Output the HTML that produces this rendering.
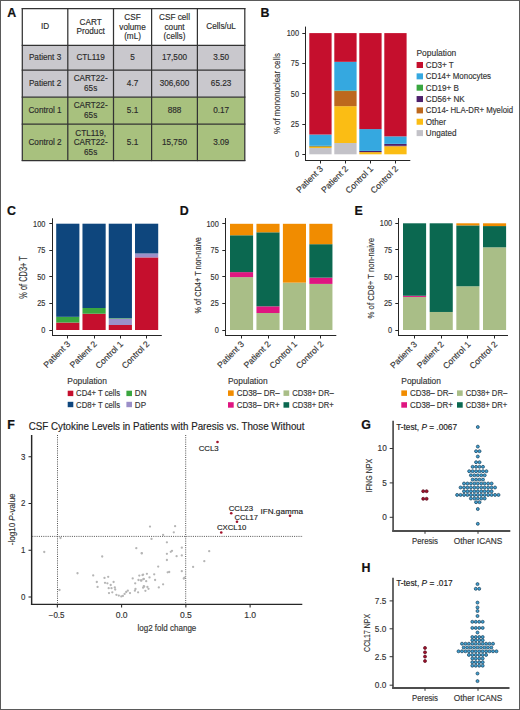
<!DOCTYPE html>
<html><head><meta charset="utf-8"><style>
html,body{margin:0;padding:0;background:#fff;}
body{width:520px;height:710px;overflow:hidden;position:relative;}
svg{position:absolute;left:0;top:0;font-family:"Liberation Sans", sans-serif;}
.frame{position:absolute;left:0;top:0;width:518px;height:708px;border:1px solid #5a5a5a;}
</style></head><body>
<svg width="520" height="710" viewBox="0 0 520 710">
<text x="7.2" y="16.7" font-size="12.4" text-anchor="start" fill="#111" font-weight="bold" stroke="#111" stroke-width="0.2">A</text>
<rect x="22.3" y="8.6" width="222.5" height="36.699999999999996" fill="#fff"/>
<rect x="22.3" y="45.3" width="222.5" height="51.900000000000006" fill="#c9c8cd"/>
<rect x="22.3" y="97.2" width="222.5" height="63.3" fill="#a8c17e"/>
<line x1="22.3" y1="8.0" x2="22.3" y2="161.1" stroke="#333" stroke-width="1.25"/>
<line x1="67.8" y1="8.0" x2="67.8" y2="161.1" stroke="#333" stroke-width="1.25"/>
<line x1="113.5" y1="8.0" x2="113.5" y2="161.1" stroke="#333" stroke-width="1.25"/>
<line x1="151.6" y1="8.0" x2="151.6" y2="161.1" stroke="#333" stroke-width="1.25"/>
<line x1="197.4" y1="8.0" x2="197.4" y2="161.1" stroke="#333" stroke-width="1.25"/>
<line x1="244.8" y1="8.0" x2="244.8" y2="161.1" stroke="#333" stroke-width="1.25"/>
<line x1="21.7" y1="8.6" x2="245.4" y2="8.6" stroke="#333" stroke-width="1.25"/>
<line x1="21.7" y1="45.3" x2="245.4" y2="45.3" stroke="#333" stroke-width="1.25"/>
<line x1="21.7" y1="70.2" x2="245.4" y2="70.2" stroke="#333" stroke-width="1.25"/>
<line x1="21.7" y1="97.2" x2="245.4" y2="97.2" stroke="#333" stroke-width="1.25"/>
<line x1="21.7" y1="124.2" x2="245.4" y2="124.2" stroke="#333" stroke-width="1.25"/>
<line x1="21.7" y1="160.5" x2="245.4" y2="160.5" stroke="#333" stroke-width="1.25"/>
<text x="45.05" y="29.25" font-size="8.2" text-anchor="middle" fill="#2b2b2b" font-weight="normal" stroke="#2b2b2b" stroke-width="0.15">ID</text>
<text x="90.65" y="24.55" font-size="8.2" text-anchor="middle" fill="#2b2b2b" font-weight="normal" stroke="#2b2b2b" stroke-width="0.15">CART</text>
<text x="90.65" y="34.15" font-size="8.2" text-anchor="middle" fill="#2b2b2b" font-weight="normal" stroke="#2b2b2b" stroke-width="0.15">Product</text>
<text x="132.55" y="20.1" font-size="8.2" text-anchor="middle" fill="#2b2b2b" font-weight="normal" stroke="#2b2b2b" stroke-width="0.15">CSF</text>
<text x="132.55" y="29.7" font-size="8.2" text-anchor="middle" fill="#2b2b2b" font-weight="normal" stroke="#2b2b2b" stroke-width="0.15">volume</text>
<text x="132.55" y="39.3" font-size="8.2" text-anchor="middle" fill="#2b2b2b" font-weight="normal" stroke="#2b2b2b" stroke-width="0.15">(mL)</text>
<text x="174.5" y="20.1" font-size="8.2" text-anchor="middle" fill="#2b2b2b" font-weight="normal" stroke="#2b2b2b" stroke-width="0.15">CSF cell</text>
<text x="174.5" y="29.7" font-size="8.2" text-anchor="middle" fill="#2b2b2b" font-weight="normal" stroke="#2b2b2b" stroke-width="0.15">count</text>
<text x="174.5" y="39.3" font-size="8.2" text-anchor="middle" fill="#2b2b2b" font-weight="normal" stroke="#2b2b2b" stroke-width="0.15">(cells)</text>
<text x="221.1" y="29.25" font-size="8.2" text-anchor="middle" fill="#2b2b2b" font-weight="normal" stroke="#2b2b2b" stroke-width="0.15">Cells/uL</text>
<text x="45.05" y="60.05" font-size="8.2" text-anchor="middle" fill="#2b2b2b" font-weight="normal" stroke="#2b2b2b" stroke-width="0.15">Patient 3</text>
<text x="90.65" y="60.05" font-size="8.2" text-anchor="middle" fill="#2b2b2b" font-weight="normal" stroke="#2b2b2b" stroke-width="0.15">CTL119</text>
<text x="132.55" y="60.05" font-size="8.2" text-anchor="middle" fill="#2b2b2b" font-weight="normal" stroke="#2b2b2b" stroke-width="0.15">5</text>
<text x="174.5" y="60.05" font-size="8.2" text-anchor="middle" fill="#2b2b2b" font-weight="normal" stroke="#2b2b2b" stroke-width="0.15">17,500</text>
<text x="221.1" y="60.05" font-size="8.2" text-anchor="middle" fill="#2b2b2b" font-weight="normal" stroke="#2b2b2b" stroke-width="0.15">3.50</text>
<text x="45.05" y="86.0" font-size="8.2" text-anchor="middle" fill="#2b2b2b" font-weight="normal" stroke="#2b2b2b" stroke-width="0.15">Patient 2</text>
<text x="90.65" y="81.3" font-size="8.2" text-anchor="middle" fill="#2b2b2b" font-weight="normal" stroke="#2b2b2b" stroke-width="0.15">CART22-</text>
<text x="90.65" y="90.9" font-size="8.2" text-anchor="middle" fill="#2b2b2b" font-weight="normal" stroke="#2b2b2b" stroke-width="0.15">65s</text>
<text x="132.55" y="86.0" font-size="8.2" text-anchor="middle" fill="#2b2b2b" font-weight="normal" stroke="#2b2b2b" stroke-width="0.15">4.7</text>
<text x="174.5" y="86.0" font-size="8.2" text-anchor="middle" fill="#2b2b2b" font-weight="normal" stroke="#2b2b2b" stroke-width="0.15">306,600</text>
<text x="221.1" y="86.0" font-size="8.2" text-anchor="middle" fill="#2b2b2b" font-weight="normal" stroke="#2b2b2b" stroke-width="0.15">65.23</text>
<text x="45.05" y="113.0" font-size="8.2" text-anchor="middle" fill="#2b2b2b" font-weight="normal" stroke="#2b2b2b" stroke-width="0.15">Control 1</text>
<text x="90.65" y="108.3" font-size="8.2" text-anchor="middle" fill="#2b2b2b" font-weight="normal" stroke="#2b2b2b" stroke-width="0.15">CART22-</text>
<text x="90.65" y="117.9" font-size="8.2" text-anchor="middle" fill="#2b2b2b" font-weight="normal" stroke="#2b2b2b" stroke-width="0.15">65s</text>
<text x="132.55" y="113.0" font-size="8.2" text-anchor="middle" fill="#2b2b2b" font-weight="normal" stroke="#2b2b2b" stroke-width="0.15">5.1</text>
<text x="174.5" y="113.0" font-size="8.2" text-anchor="middle" fill="#2b2b2b" font-weight="normal" stroke="#2b2b2b" stroke-width="0.15">888</text>
<text x="221.1" y="113.0" font-size="8.2" text-anchor="middle" fill="#2b2b2b" font-weight="normal" stroke="#2b2b2b" stroke-width="0.15">0.17</text>
<text x="45.05" y="144.65" font-size="8.2" text-anchor="middle" fill="#2b2b2b" font-weight="normal" stroke="#2b2b2b" stroke-width="0.15">Control 2</text>
<text x="90.65" y="135.5" font-size="8.2" text-anchor="middle" fill="#2b2b2b" font-weight="normal" stroke="#2b2b2b" stroke-width="0.15">CTL119,</text>
<text x="90.65" y="145.1" font-size="8.2" text-anchor="middle" fill="#2b2b2b" font-weight="normal" stroke="#2b2b2b" stroke-width="0.15">CART22-</text>
<text x="90.65" y="154.7" font-size="8.2" text-anchor="middle" fill="#2b2b2b" font-weight="normal" stroke="#2b2b2b" stroke-width="0.15">65s</text>
<text x="132.55" y="144.65" font-size="8.2" text-anchor="middle" fill="#2b2b2b" font-weight="normal" stroke="#2b2b2b" stroke-width="0.15">5.1</text>
<text x="174.5" y="144.65" font-size="8.2" text-anchor="middle" fill="#2b2b2b" font-weight="normal" stroke="#2b2b2b" stroke-width="0.15">15,750</text>
<text x="221.1" y="144.65" font-size="8.2" text-anchor="middle" fill="#2b2b2b" font-weight="normal" stroke="#2b2b2b" stroke-width="0.15">3.09</text>
<text x="260.5" y="16.8" font-size="12.4" text-anchor="start" fill="#111" font-weight="bold" stroke="#111" stroke-width="0.2">B</text>
<rect x="309.3" y="148.0" width="22.3" height="6.3" fill="#c3c2c8"/>
<rect x="309.3" y="147.03" width="22.3" height="0.97" fill="#fbbd14"/>
<rect x="309.3" y="146.3" width="22.3" height="0.73" fill="#bd681d"/>
<rect x="309.3" y="145.82" width="22.3" height="0.48" fill="#3aa63f"/>
<rect x="309.3" y="134.54" width="22.3" height="11.27" fill="#35a8e0"/>
<rect x="309.3" y="33.1" width="22.3" height="101.44" fill="#c50f2d"/>
<rect x="334.3" y="143.03" width="22.3" height="11.27" fill="#c3c2c8"/>
<rect x="334.3" y="106.18" width="22.3" height="36.84" fill="#fbbd14"/>
<rect x="334.3" y="91.03" width="22.3" height="15.15" fill="#bd681d"/>
<rect x="334.3" y="90.43" width="22.3" height="0.61" fill="#3aa63f"/>
<rect x="334.3" y="61.82" width="22.3" height="28.6" fill="#35a8e0"/>
<rect x="334.3" y="33.1" width="22.3" height="28.72" fill="#c50f2d"/>
<rect x="359.3" y="152.12" width="22.3" height="2.18" fill="#fbbd14"/>
<rect x="359.3" y="150.91" width="22.3" height="1.21" fill="#4d1f6b"/>
<rect x="359.3" y="129.09" width="22.3" height="21.82" fill="#35a8e0"/>
<rect x="359.3" y="33.1" width="22.3" height="95.99" fill="#c50f2d"/>
<rect x="384.3" y="146.42" width="22.3" height="7.88" fill="#fbbd14"/>
<rect x="384.3" y="145.82" width="22.3" height="0.61" fill="#bd681d"/>
<rect x="384.3" y="143.88" width="22.3" height="1.94" fill="#4d1f6b"/>
<rect x="384.3" y="136.36" width="22.3" height="7.51" fill="#35a8e0"/>
<rect x="384.3" y="33.1" width="22.3" height="103.26" fill="#c50f2d"/>
<line x1="305.5" y1="26.6" x2="305.5" y2="161.0" stroke="#262626" stroke-width="1.0"/>
<line x1="305.0" y1="160.5" x2="410.3" y2="160.5" stroke="#262626" stroke-width="1.0"/>
<line x1="302.3" y1="154.5" x2="305.5" y2="154.5" stroke="#262626" stroke-width="1.0"/>
<text x="299.0" y="157.15" font-size="8.3" text-anchor="end" fill="#333" font-weight="normal" stroke="#333" stroke-width="0.15" textLength="4.1" lengthAdjust="spacingAndGlyphs">0</text>
<line x1="302.3" y1="124.5" x2="305.5" y2="124.5" stroke="#262626" stroke-width="1.0"/>
<text x="299.0" y="126.85" font-size="8.3" text-anchor="end" fill="#333" font-weight="normal" stroke="#333" stroke-width="0.15" textLength="8.2" lengthAdjust="spacingAndGlyphs">25</text>
<line x1="302.3" y1="93.5" x2="305.5" y2="93.5" stroke="#262626" stroke-width="1.0"/>
<text x="299.0" y="96.55" font-size="8.3" text-anchor="end" fill="#333" font-weight="normal" stroke="#333" stroke-width="0.15" textLength="8.2" lengthAdjust="spacingAndGlyphs">50</text>
<line x1="302.3" y1="63.5" x2="305.5" y2="63.5" stroke="#262626" stroke-width="1.0"/>
<text x="299.0" y="66.25" font-size="8.3" text-anchor="end" fill="#333" font-weight="normal" stroke="#333" stroke-width="0.15" textLength="8.2" lengthAdjust="spacingAndGlyphs">75</text>
<line x1="302.3" y1="33.5" x2="305.5" y2="33.5" stroke="#262626" stroke-width="1.0"/>
<text x="299.0" y="35.95" font-size="8.3" text-anchor="end" fill="#333" font-weight="normal" stroke="#333" stroke-width="0.15" textLength="12.3" lengthAdjust="spacingAndGlyphs">100</text>
<line x1="320.5" y1="160.5" x2="320.5" y2="163.5" stroke="#262626" stroke-width="1.0"/>
<text transform="translate(323.65,169.4) rotate(-45)" font-size="8.6" text-anchor="end" fill="#333" stroke="#333" stroke-width="0.15">Patient 3</text>
<line x1="345.5" y1="160.5" x2="345.5" y2="163.5" stroke="#262626" stroke-width="1.0"/>
<text transform="translate(348.65,169.4) rotate(-45)" font-size="8.6" text-anchor="end" fill="#333" stroke="#333" stroke-width="0.15">Patient 2</text>
<line x1="370.5" y1="160.5" x2="370.5" y2="163.5" stroke="#262626" stroke-width="1.0"/>
<text transform="translate(373.65,169.4) rotate(-45)" font-size="8.6" text-anchor="end" fill="#333" stroke="#333" stroke-width="0.15">Control 1</text>
<line x1="395.5" y1="160.5" x2="395.5" y2="163.5" stroke="#262626" stroke-width="1.0"/>
<text transform="translate(398.65,169.4) rotate(-45)" font-size="8.6" text-anchor="end" fill="#333" stroke="#333" stroke-width="0.15">Control 2</text>
<text transform="translate(280.0,93.6) rotate(-90)" font-size="9.3" text-anchor="middle" fill="#333" stroke="#333" stroke-width="0.15" textLength="80.9" lengthAdjust="spacingAndGlyphs">% of mononuclear cells</text>
<text x="416.5" y="56.1" font-size="8.3" text-anchor="start" fill="#333" font-weight="normal" stroke="#333" stroke-width="0.15" textLength="39.8" lengthAdjust="spacingAndGlyphs">Population</text>
<rect x="416.6" y="62.0" width="6.4" height="6.0" fill="#c50f2d"/>
<text x="425.8" y="67.9" font-size="8.5" text-anchor="start" fill="#333" font-weight="normal" stroke="#333" stroke-width="0.15" textLength="27.99" lengthAdjust="spacingAndGlyphs">CD3+ T</text>
<rect x="416.6" y="73.35" width="6.4" height="6.0" fill="#35a8e0"/>
<text x="425.8" y="79.25" font-size="8.5" text-anchor="start" fill="#333" font-weight="normal" stroke="#333" stroke-width="0.15" textLength="65.2" lengthAdjust="spacingAndGlyphs">CD14+ Monocytes</text>
<rect x="416.6" y="84.7" width="6.4" height="6.0" fill="#3aa63f"/>
<text x="425.8" y="90.6" font-size="8.5" text-anchor="start" fill="#333" font-weight="normal" stroke="#333" stroke-width="0.15" textLength="33.09" lengthAdjust="spacingAndGlyphs">CD19+ B</text>
<rect x="416.6" y="96.05" width="6.4" height="6.0" fill="#4d1f6b"/>
<text x="425.8" y="101.95" font-size="8.5" text-anchor="start" fill="#333" font-weight="normal" stroke="#333" stroke-width="0.15" textLength="38.94" lengthAdjust="spacingAndGlyphs">CD56+ NK</text>
<rect x="416.6" y="107.4" width="6.4" height="6.0" fill="#bd681d"/>
<text x="425.8" y="113.3" font-size="8.5" text-anchor="start" fill="#333" font-weight="normal" stroke="#333" stroke-width="0.15" textLength="87.3" lengthAdjust="spacingAndGlyphs">CD14- HLA-DR+ Myeloid</text>
<rect x="416.6" y="118.75" width="6.4" height="6.0" fill="#fbbd14"/>
<text x="425.8" y="124.65" font-size="8.5" text-anchor="start" fill="#333" font-weight="normal" stroke="#333" stroke-width="0.15" textLength="20.26" lengthAdjust="spacingAndGlyphs">Other</text>
<rect x="416.6" y="130.1" width="6.4" height="6.0" fill="#c3c2c8"/>
<text x="425.8" y="136.0" font-size="8.5" text-anchor="start" fill="#333" font-weight="normal" stroke="#333" stroke-width="0.15" textLength="30.62" lengthAdjust="spacingAndGlyphs">Ungated</text>
<text x="7.0" y="215.4" font-size="12.4" text-anchor="start" fill="#111" font-weight="bold" stroke="#111" stroke-width="0.2">C</text>
<rect x="56.2" y="322.56" width="23.2" height="7.44" fill="#c50f2d"/>
<rect x="56.2" y="316.82" width="23.2" height="5.74" fill="#3aa63f"/>
<rect x="56.2" y="223.7" width="23.2" height="93.12" fill="#0e467d"/>
<rect x="82.47" y="313.74" width="23.2" height="16.26" fill="#c50f2d"/>
<rect x="82.47" y="308.0" width="23.2" height="5.74" fill="#3aa63f"/>
<rect x="82.47" y="223.7" width="23.2" height="84.3" fill="#0e467d"/>
<rect x="108.74" y="325.0" width="23.2" height="5.0" fill="#c50f2d"/>
<rect x="108.74" y="318.73" width="23.2" height="6.27" fill="#9b8fc8"/>
<rect x="108.74" y="318.2" width="23.2" height="0.53" fill="#3aa63f"/>
<rect x="108.74" y="223.7" width="23.2" height="94.5" fill="#0e467d"/>
<rect x="135.01" y="257.4" width="23.2" height="72.6" fill="#c50f2d"/>
<rect x="135.01" y="253.46" width="23.2" height="3.93" fill="#9b8fc8"/>
<rect x="135.01" y="223.7" width="23.2" height="29.76" fill="#0e467d"/>
<line x1="52.5" y1="218.3" x2="52.5" y2="336.0" stroke="#262626" stroke-width="1.0"/>
<line x1="52.0" y1="335.5" x2="161.8" y2="335.5" stroke="#262626" stroke-width="1.0"/>
<line x1="49.3" y1="330.5" x2="52.5" y2="330.5" stroke="#262626" stroke-width="1.0"/>
<text x="45.4" y="332.85" font-size="8.3" text-anchor="end" fill="#333" font-weight="normal" stroke="#333" stroke-width="0.15" textLength="4.1" lengthAdjust="spacingAndGlyphs">0</text>
<line x1="49.3" y1="303.5" x2="52.5" y2="303.5" stroke="#262626" stroke-width="1.0"/>
<text x="45.4" y="306.28" font-size="8.3" text-anchor="end" fill="#333" font-weight="normal" stroke="#333" stroke-width="0.15" textLength="8.2" lengthAdjust="spacingAndGlyphs">25</text>
<line x1="49.3" y1="276.5" x2="52.5" y2="276.5" stroke="#262626" stroke-width="1.0"/>
<text x="45.4" y="279.7" font-size="8.3" text-anchor="end" fill="#333" font-weight="normal" stroke="#333" stroke-width="0.15" textLength="8.2" lengthAdjust="spacingAndGlyphs">50</text>
<line x1="49.3" y1="250.5" x2="52.5" y2="250.5" stroke="#262626" stroke-width="1.0"/>
<text x="45.4" y="253.12" font-size="8.3" text-anchor="end" fill="#333" font-weight="normal" stroke="#333" stroke-width="0.15" textLength="8.2" lengthAdjust="spacingAndGlyphs">75</text>
<line x1="49.3" y1="223.5" x2="52.5" y2="223.5" stroke="#262626" stroke-width="1.0"/>
<text x="45.4" y="226.55" font-size="8.3" text-anchor="end" fill="#333" font-weight="normal" stroke="#333" stroke-width="0.15" textLength="12.3" lengthAdjust="spacingAndGlyphs">100</text>
<line x1="67.5" y1="335.5" x2="67.5" y2="338.5" stroke="#262626" stroke-width="1.0"/>
<text transform="translate(71.0,344.5) rotate(-45)" font-size="8.6" text-anchor="end" fill="#333" stroke="#333" stroke-width="0.15">Patient 3</text>
<line x1="94.5" y1="335.5" x2="94.5" y2="338.5" stroke="#262626" stroke-width="1.0"/>
<text transform="translate(97.27,344.5) rotate(-45)" font-size="8.6" text-anchor="end" fill="#333" stroke="#333" stroke-width="0.15">Patient 2</text>
<line x1="120.5" y1="335.5" x2="120.5" y2="338.5" stroke="#262626" stroke-width="1.0"/>
<text transform="translate(123.54,344.5) rotate(-45)" font-size="8.6" text-anchor="end" fill="#333" stroke="#333" stroke-width="0.15">Control 1</text>
<line x1="146.5" y1="335.5" x2="146.5" y2="338.5" stroke="#262626" stroke-width="1.0"/>
<text transform="translate(149.81,344.5) rotate(-45)" font-size="8.6" text-anchor="end" fill="#333" stroke="#333" stroke-width="0.15">Control 2</text>
<text transform="translate(26.8,277.4) rotate(-90)" font-size="10.2" text-anchor="middle" fill="#333" stroke="#333" stroke-width="0.15" textLength="42.6" lengthAdjust="spacingAndGlyphs">% of CD3+ T</text>
<text x="67.3" y="384.4" font-size="8.3" text-anchor="start" fill="#333" font-weight="normal" stroke="#333" stroke-width="0.15" textLength="39.6" lengthAdjust="spacingAndGlyphs">Population</text>
<rect x="67.7" y="390.7" width="5.6" height="5.4" fill="#c50f2d"/>
<text x="76.10000000000001" y="396.4" font-size="8.5" text-anchor="start" fill="#333" font-weight="normal" stroke="#333" stroke-width="0.15" textLength="44" lengthAdjust="spacingAndGlyphs">CD4+ T cells</text>
<rect x="67.7" y="401.8" width="5.6" height="5.4" fill="#0e467d"/>
<text x="76.10000000000001" y="407.5" font-size="8.5" text-anchor="start" fill="#333" font-weight="normal" stroke="#333" stroke-width="0.15" textLength="44" lengthAdjust="spacingAndGlyphs">CD8+ T cells</text>
<rect x="126.4" y="390.7" width="5.6" height="5.4" fill="#3aa63f"/>
<text x="134.8" y="396.4" font-size="8.5" text-anchor="start" fill="#333" font-weight="normal" stroke="#333" stroke-width="0.15" textLength="11.7" lengthAdjust="spacingAndGlyphs">DN</text>
<rect x="126.4" y="401.8" width="5.6" height="5.4" fill="#9b8fc8"/>
<text x="134.8" y="407.5" font-size="8.5" text-anchor="start" fill="#333" font-weight="normal" stroke="#333" stroke-width="0.15" textLength="11.25" lengthAdjust="spacingAndGlyphs">DP</text>
<text x="179.8" y="215.4" font-size="12.4" text-anchor="start" fill="#111" font-weight="bold" stroke="#111" stroke-width="0.2">D</text>
<rect x="230.0" y="277.11" width="23.1" height="52.89" fill="#a9be87"/>
<rect x="230.0" y="272.12" width="23.1" height="4.99" fill="#df1580"/>
<rect x="230.0" y="235.27" width="23.1" height="36.85" fill="#0b6850"/>
<rect x="230.0" y="223.8" width="23.1" height="11.47" fill="#f18c00"/>
<rect x="256.45" y="313.01" width="23.1" height="16.99" fill="#a9be87"/>
<rect x="256.45" y="306.32" width="23.1" height="6.69" fill="#df1580"/>
<rect x="256.45" y="232.3" width="23.1" height="74.02" fill="#0b6850"/>
<rect x="256.45" y="223.8" width="23.1" height="8.5" fill="#f18c00"/>
<rect x="282.9" y="282.63" width="23.1" height="47.37" fill="#a9be87"/>
<rect x="282.9" y="223.8" width="23.1" height="58.83" fill="#f18c00"/>
<rect x="309.35" y="283.91" width="23.1" height="46.09" fill="#a9be87"/>
<rect x="309.35" y="277.64" width="23.1" height="6.27" fill="#df1580"/>
<rect x="309.35" y="244.19" width="23.1" height="33.45" fill="#0b6850"/>
<rect x="309.35" y="223.8" width="23.1" height="20.39" fill="#f18c00"/>
<line x1="225.5" y1="218.0" x2="225.5" y2="336.0" stroke="#262626" stroke-width="1.0"/>
<line x1="225.0" y1="335.5" x2="336.3" y2="335.5" stroke="#262626" stroke-width="1.0"/>
<line x1="222.3" y1="330.5" x2="225.5" y2="330.5" stroke="#262626" stroke-width="1.0"/>
<text x="218.8" y="332.85" font-size="8.3" text-anchor="end" fill="#333" font-weight="normal" stroke="#333" stroke-width="0.15" textLength="4.1" lengthAdjust="spacingAndGlyphs">0</text>
<line x1="222.3" y1="303.5" x2="225.5" y2="303.5" stroke="#262626" stroke-width="1.0"/>
<text x="218.8" y="306.3" font-size="8.3" text-anchor="end" fill="#333" font-weight="normal" stroke="#333" stroke-width="0.15" textLength="8.2" lengthAdjust="spacingAndGlyphs">25</text>
<line x1="222.3" y1="276.5" x2="225.5" y2="276.5" stroke="#262626" stroke-width="1.0"/>
<text x="218.8" y="279.75" font-size="8.3" text-anchor="end" fill="#333" font-weight="normal" stroke="#333" stroke-width="0.15" textLength="8.2" lengthAdjust="spacingAndGlyphs">50</text>
<line x1="222.3" y1="250.5" x2="225.5" y2="250.5" stroke="#262626" stroke-width="1.0"/>
<text x="218.8" y="253.2" font-size="8.3" text-anchor="end" fill="#333" font-weight="normal" stroke="#333" stroke-width="0.15" textLength="8.2" lengthAdjust="spacingAndGlyphs">75</text>
<line x1="222.3" y1="223.5" x2="225.5" y2="223.5" stroke="#262626" stroke-width="1.0"/>
<text x="218.8" y="226.65" font-size="8.3" text-anchor="end" fill="#333" font-weight="normal" stroke="#333" stroke-width="0.15" textLength="12.3" lengthAdjust="spacingAndGlyphs">100</text>
<line x1="241.5" y1="335.5" x2="241.5" y2="338.5" stroke="#262626" stroke-width="1.0"/>
<text transform="translate(244.75,344.7) rotate(-45)" font-size="8.6" text-anchor="end" fill="#333" stroke="#333" stroke-width="0.15">Patient 3</text>
<line x1="268.5" y1="335.5" x2="268.5" y2="338.5" stroke="#262626" stroke-width="1.0"/>
<text transform="translate(271.2,344.7) rotate(-45)" font-size="8.6" text-anchor="end" fill="#333" stroke="#333" stroke-width="0.15">Patient 2</text>
<line x1="294.5" y1="335.5" x2="294.5" y2="338.5" stroke="#262626" stroke-width="1.0"/>
<text transform="translate(297.65,344.7) rotate(-45)" font-size="8.6" text-anchor="end" fill="#333" stroke="#333" stroke-width="0.15">Control 1</text>
<line x1="320.5" y1="335.5" x2="320.5" y2="338.5" stroke="#262626" stroke-width="1.0"/>
<text transform="translate(324.1,344.7) rotate(-45)" font-size="8.6" text-anchor="end" fill="#333" stroke="#333" stroke-width="0.15">Control 2</text>
<text transform="translate(200.6,275.3) rotate(-90)" font-size="9.6" text-anchor="middle" fill="#333" stroke="#333" stroke-width="0.15" textLength="76.5" lengthAdjust="spacingAndGlyphs">% of CD4+ T non-naive</text>
<text x="354.6" y="215.4" font-size="12.4" text-anchor="start" fill="#111" font-weight="bold" stroke="#111" stroke-width="0.2">E</text>
<rect x="403.0" y="296.92" width="23.1" height="33.08" fill="#a9be87"/>
<rect x="403.0" y="295.75" width="23.1" height="1.17" fill="#df1580"/>
<rect x="403.0" y="223.3" width="23.1" height="72.45" fill="#0b6850"/>
<rect x="429.67" y="311.97" width="23.1" height="18.03" fill="#a9be87"/>
<rect x="429.67" y="223.3" width="23.1" height="88.67" fill="#0b6850"/>
<rect x="456.34" y="286.25" width="23.1" height="43.75" fill="#a9be87"/>
<rect x="456.34" y="225.43" width="23.1" height="60.82" fill="#0b6850"/>
<rect x="456.34" y="223.3" width="23.1" height="2.13" fill="#f18c00"/>
<rect x="483.01" y="247.31" width="23.1" height="82.69" fill="#a9be87"/>
<rect x="483.01" y="226.07" width="23.1" height="21.23" fill="#0b6850"/>
<rect x="483.01" y="223.3" width="23.1" height="2.77" fill="#f18c00"/>
<line x1="398.5" y1="218.0" x2="398.5" y2="336.0" stroke="#262626" stroke-width="1.0"/>
<line x1="398.0" y1="335.5" x2="508.0" y2="335.5" stroke="#262626" stroke-width="1.0"/>
<line x1="395.3" y1="330.5" x2="398.5" y2="330.5" stroke="#262626" stroke-width="1.0"/>
<text x="392.15" y="332.85" font-size="8.3" text-anchor="end" fill="#333" font-weight="normal" stroke="#333" stroke-width="0.15" textLength="4.1" lengthAdjust="spacingAndGlyphs">0</text>
<line x1="395.3" y1="303.5" x2="398.5" y2="303.5" stroke="#262626" stroke-width="1.0"/>
<text x="392.15" y="306.18" font-size="8.3" text-anchor="end" fill="#333" font-weight="normal" stroke="#333" stroke-width="0.15" textLength="8.2" lengthAdjust="spacingAndGlyphs">25</text>
<line x1="395.3" y1="276.5" x2="398.5" y2="276.5" stroke="#262626" stroke-width="1.0"/>
<text x="392.15" y="279.5" font-size="8.3" text-anchor="end" fill="#333" font-weight="normal" stroke="#333" stroke-width="0.15" textLength="8.2" lengthAdjust="spacingAndGlyphs">50</text>
<line x1="395.3" y1="249.5" x2="398.5" y2="249.5" stroke="#262626" stroke-width="1.0"/>
<text x="392.15" y="252.83" font-size="8.3" text-anchor="end" fill="#333" font-weight="normal" stroke="#333" stroke-width="0.15" textLength="8.2" lengthAdjust="spacingAndGlyphs">75</text>
<line x1="395.3" y1="223.5" x2="398.5" y2="223.5" stroke="#262626" stroke-width="1.0"/>
<text x="392.15" y="226.15" font-size="8.3" text-anchor="end" fill="#333" font-weight="normal" stroke="#333" stroke-width="0.15" textLength="12.3" lengthAdjust="spacingAndGlyphs">100</text>
<line x1="414.5" y1="335.5" x2="414.5" y2="338.5" stroke="#262626" stroke-width="1.0"/>
<text transform="translate(417.75,344.95) rotate(-45)" font-size="8.6" text-anchor="end" fill="#333" stroke="#333" stroke-width="0.15">Patient 3</text>
<line x1="441.5" y1="335.5" x2="441.5" y2="338.5" stroke="#262626" stroke-width="1.0"/>
<text transform="translate(444.42,344.95) rotate(-45)" font-size="8.6" text-anchor="end" fill="#333" stroke="#333" stroke-width="0.15">Patient 2</text>
<line x1="467.5" y1="335.5" x2="467.5" y2="338.5" stroke="#262626" stroke-width="1.0"/>
<text transform="translate(471.09,344.95) rotate(-45)" font-size="8.6" text-anchor="end" fill="#333" stroke="#333" stroke-width="0.15">Control 1</text>
<line x1="494.5" y1="335.5" x2="494.5" y2="338.5" stroke="#262626" stroke-width="1.0"/>
<text transform="translate(497.76,344.95) rotate(-45)" font-size="8.6" text-anchor="end" fill="#333" stroke="#333" stroke-width="0.15">Control 2</text>
<text transform="translate(374.4,278.2) rotate(-90)" font-size="9.6" text-anchor="middle" fill="#333" stroke="#333" stroke-width="0.15" textLength="80.5" lengthAdjust="spacingAndGlyphs">% of CD8+ T non-naive</text>
<text x="228.0" y="384.2" font-size="8.3" text-anchor="start" fill="#333" font-weight="normal" stroke="#333" stroke-width="0.15" textLength="39.6" lengthAdjust="spacingAndGlyphs">Population</text>
<rect x="228.0" y="390.4" width="5.7" height="5.5" fill="#f18c00"/>
<text x="236.7" y="396.1" font-size="8.5" text-anchor="start" fill="#333" font-weight="normal" stroke="#333" stroke-width="0.15" textLength="42.9" lengthAdjust="spacingAndGlyphs">CD38– DR–</text>
<rect x="228.0" y="402.2" width="5.7" height="5.5" fill="#df1580"/>
<text x="236.7" y="407.9" font-size="8.5" text-anchor="start" fill="#333" font-weight="normal" stroke="#333" stroke-width="0.15" textLength="42.9" lengthAdjust="spacingAndGlyphs">CD38– DR+</text>
<rect x="283.5" y="390.4" width="5.7" height="5.5" fill="#a9be87"/>
<text x="292.2" y="396.1" font-size="8.5" text-anchor="start" fill="#333" font-weight="normal" stroke="#333" stroke-width="0.15" textLength="41.5" lengthAdjust="spacingAndGlyphs">CD38+ DR–</text>
<rect x="283.5" y="402.2" width="5.7" height="5.5" fill="#0b6850"/>
<text x="292.2" y="407.9" font-size="8.5" text-anchor="start" fill="#333" font-weight="normal" stroke="#333" stroke-width="0.15" textLength="41.5" lengthAdjust="spacingAndGlyphs">CD38+ DR+</text>
<text x="401.3" y="384.2" font-size="8.3" text-anchor="start" fill="#333" font-weight="normal" stroke="#333" stroke-width="0.15" textLength="39.6" lengthAdjust="spacingAndGlyphs">Population</text>
<rect x="401.3" y="390.4" width="5.7" height="5.5" fill="#f18c00"/>
<text x="410.0" y="396.1" font-size="8.5" text-anchor="start" fill="#333" font-weight="normal" stroke="#333" stroke-width="0.15" textLength="42.9" lengthAdjust="spacingAndGlyphs">CD38– DR–</text>
<rect x="401.3" y="402.2" width="5.7" height="5.5" fill="#df1580"/>
<text x="410.0" y="407.9" font-size="8.5" text-anchor="start" fill="#333" font-weight="normal" stroke="#333" stroke-width="0.15" textLength="42.9" lengthAdjust="spacingAndGlyphs">CD38– DR+</text>
<rect x="457.0" y="390.4" width="5.7" height="5.5" fill="#a9be87"/>
<text x="465.7" y="396.1" font-size="8.5" text-anchor="start" fill="#333" font-weight="normal" stroke="#333" stroke-width="0.15" textLength="41.5" lengthAdjust="spacingAndGlyphs">CD38+ DR–</text>
<rect x="457.0" y="402.2" width="5.7" height="5.5" fill="#0b6850"/>
<text x="465.7" y="407.9" font-size="8.5" text-anchor="start" fill="#333" font-weight="normal" stroke="#333" stroke-width="0.15" textLength="41.5" lengthAdjust="spacingAndGlyphs">CD38+ DR+</text>
<text x="7.3" y="428.8" font-size="12.4" text-anchor="start" fill="#111" font-weight="bold" stroke="#111" stroke-width="0.2">F</text>
<text x="28.7" y="429.5" font-size="10.3" text-anchor="start" fill="#222" font-weight="normal" stroke="#222" stroke-width="0.15" textLength="275.8" lengthAdjust="spacingAndGlyphs">CSF Cytokine Levels in Patients with Paresis vs. Those Without</text>
<line x1="57.5" y1="435" x2="57.5" y2="603.2" stroke="#4a4a4a" stroke-width="0.95" stroke-dasharray="1.0 1.2"/>
<line x1="185.7" y1="435" x2="185.7" y2="603.2" stroke="#4a4a4a" stroke-width="0.95" stroke-dasharray="1.0 1.2"/>
<line x1="32.3" y1="536.4" x2="303" y2="536.4" stroke="#4a4a4a" stroke-width="0.95" stroke-dasharray="1.0 1.2"/>
<circle cx="44.25" cy="552" r="1.15" fill="#b5b5b5"/>
<circle cx="60.5" cy="538" r="1.15" fill="#b5b5b5"/>
<circle cx="59.5" cy="590" r="1.15" fill="#b5b5b5"/>
<circle cx="77.5" cy="573.25" r="1.15" fill="#b5b5b5"/>
<circle cx="102.2" cy="556.5" r="1.15" fill="#b5b5b5"/>
<circle cx="93.2" cy="575.4" r="1.15" fill="#b5b5b5"/>
<circle cx="96.8" cy="582" r="1.15" fill="#b5b5b5"/>
<circle cx="97.6" cy="586.9" r="1.15" fill="#b5b5b5"/>
<circle cx="104.5" cy="577.9" r="1.15" fill="#b5b5b5"/>
<circle cx="108.2" cy="576.8" r="1.15" fill="#b5b5b5"/>
<circle cx="105" cy="582.8" r="1.15" fill="#b5b5b5"/>
<circle cx="107.4" cy="583.3" r="1.15" fill="#b5b5b5"/>
<circle cx="110.7" cy="585" r="1.15" fill="#b5b5b5"/>
<circle cx="113.6" cy="582" r="1.15" fill="#b5b5b5"/>
<circle cx="108.7" cy="588.2" r="1.15" fill="#b5b5b5"/>
<circle cx="111.5" cy="588.2" r="1.15" fill="#b5b5b5"/>
<circle cx="114.8" cy="587.4" r="1.15" fill="#b5b5b5"/>
<circle cx="115.2" cy="589.5" r="1.15" fill="#b5b5b5"/>
<circle cx="109" cy="593.1" r="1.15" fill="#b5b5b5"/>
<circle cx="112.3" cy="592.3" r="1.15" fill="#b5b5b5"/>
<circle cx="116.4" cy="594.8" r="1.15" fill="#b5b5b5"/>
<circle cx="118.8" cy="595.6" r="1.15" fill="#b5b5b5"/>
<circle cx="121.3" cy="596.4" r="1.15" fill="#b5b5b5"/>
<circle cx="122.9" cy="595.9" r="1.15" fill="#b5b5b5"/>
<circle cx="124.6" cy="593.9" r="1.15" fill="#b5b5b5"/>
<circle cx="126.2" cy="592" r="1.15" fill="#b5b5b5"/>
<circle cx="127.8" cy="590.7" r="1.15" fill="#b5b5b5"/>
<circle cx="130" cy="593.1" r="1.15" fill="#b5b5b5"/>
<circle cx="132.7" cy="578.4" r="1.15" fill="#b5b5b5"/>
<circle cx="135.2" cy="583.3" r="1.15" fill="#b5b5b5"/>
<circle cx="135.5" cy="589" r="1.15" fill="#b5b5b5"/>
<circle cx="134.9" cy="590.7" r="1.15" fill="#b5b5b5"/>
<circle cx="138.1" cy="592.3" r="1.15" fill="#b5b5b5"/>
<circle cx="136.3" cy="548.2" r="1.15" fill="#b5b5b5"/>
<circle cx="141.7" cy="553.1" r="1.15" fill="#b5b5b5"/>
<circle cx="139.3" cy="575.6" r="1.15" fill="#b5b5b5"/>
<circle cx="142.5" cy="575.1" r="1.15" fill="#b5b5b5"/>
<circle cx="138.5" cy="580" r="1.15" fill="#b5b5b5"/>
<circle cx="140.9" cy="580.5" r="1.15" fill="#b5b5b5"/>
<circle cx="143.4" cy="579.2" r="1.15" fill="#b5b5b5"/>
<circle cx="144.2" cy="586.6" r="1.15" fill="#b5b5b5"/>
<circle cx="150" cy="526.6" r="1.15" fill="#b5b5b5"/>
<circle cx="175.1" cy="526.2" r="1.15" fill="#b5b5b5"/>
<circle cx="173.8" cy="532.3" r="1.15" fill="#b5b5b5"/>
<circle cx="163.1" cy="534.9" r="1.15" fill="#b5b5b5"/>
<circle cx="151.5" cy="538.9" r="1.15" fill="#b5b5b5"/>
<circle cx="166.9" cy="542.3" r="1.15" fill="#b5b5b5"/>
<circle cx="181.8" cy="547.7" r="1.15" fill="#b5b5b5"/>
<circle cx="141.8" cy="553.4" r="1.15" fill="#b5b5b5"/>
<circle cx="172" cy="550.8" r="1.15" fill="#b5b5b5"/>
<circle cx="170.8" cy="551.8" r="1.15" fill="#b5b5b5"/>
<circle cx="166.9" cy="553.8" r="1.15" fill="#b5b5b5"/>
<circle cx="176.6" cy="556.2" r="1.15" fill="#b5b5b5"/>
<circle cx="181.8" cy="555.4" r="1.15" fill="#b5b5b5"/>
<circle cx="209.2" cy="551.2" r="1.15" fill="#b5b5b5"/>
<circle cx="166.9" cy="560" r="1.15" fill="#b5b5b5"/>
<circle cx="204.3" cy="561.2" r="1.15" fill="#b5b5b5"/>
<circle cx="158.2" cy="566.6" r="1.15" fill="#b5b5b5"/>
<circle cx="193.1" cy="566.9" r="1.15" fill="#b5b5b5"/>
<circle cx="181.8" cy="571.2" r="1.15" fill="#b5b5b5"/>
<circle cx="169.2" cy="572" r="1.15" fill="#b5b5b5"/>
<circle cx="167.7" cy="572.3" r="1.15" fill="#b5b5b5"/>
<circle cx="143.1" cy="574.6" r="1.15" fill="#b5b5b5"/>
<circle cx="146.9" cy="573.8" r="1.15" fill="#b5b5b5"/>
<circle cx="154.2" cy="574.3" r="1.15" fill="#b5b5b5"/>
<circle cx="149.5" cy="577.4" r="1.15" fill="#b5b5b5"/>
<circle cx="143.8" cy="578.9" r="1.15" fill="#b5b5b5"/>
<circle cx="141.5" cy="580.5" r="1.15" fill="#b5b5b5"/>
<circle cx="146.2" cy="581.2" r="1.15" fill="#b5b5b5"/>
<circle cx="155.1" cy="580" r="1.15" fill="#b5b5b5"/>
<circle cx="183.8" cy="578.5" r="1.15" fill="#b5b5b5"/>
<circle cx="184.6" cy="577.7" r="1.15" fill="#b5b5b5"/>
<circle cx="163.1" cy="584.3" r="1.15" fill="#b5b5b5"/>
<circle cx="143.8" cy="586.2" r="1.15" fill="#b5b5b5"/>
<circle cx="143.1" cy="587.7" r="1.15" fill="#b5b5b5"/>
<circle cx="147.4" cy="586.9" r="1.15" fill="#b5b5b5"/>
<circle cx="148.5" cy="588.8" r="1.15" fill="#b5b5b5"/>
<circle cx="145.4" cy="590.8" r="1.15" fill="#b5b5b5"/>
<circle cx="158.8" cy="587.4" r="1.15" fill="#b5b5b5"/>
<line x1="31.65" y1="435" x2="31.65" y2="605.0" stroke="#262626" stroke-width="1.45"/>
<line x1="30.95" y1="604.35" x2="302.3" y2="604.35" stroke="#262626" stroke-width="1.45"/>
<line x1="28.5" y1="597.0" x2="31.7" y2="597.0" stroke="#262626" stroke-width="1.05"/>
<text x="25.4" y="599.9" font-size="8.3" text-anchor="end" fill="#333" font-weight="normal" stroke="#333" stroke-width="0.15" textLength="4.4" lengthAdjust="spacingAndGlyphs">0</text>
<line x1="28.5" y1="550.25" x2="31.7" y2="550.25" stroke="#262626" stroke-width="1.05"/>
<text x="25.4" y="553.15" font-size="8.3" text-anchor="end" fill="#333" font-weight="normal" stroke="#333" stroke-width="0.15" textLength="4.4" lengthAdjust="spacingAndGlyphs">1</text>
<line x1="28.5" y1="503.5" x2="31.7" y2="503.5" stroke="#262626" stroke-width="1.05"/>
<text x="25.4" y="506.4" font-size="8.3" text-anchor="end" fill="#333" font-weight="normal" stroke="#333" stroke-width="0.15" textLength="4.4" lengthAdjust="spacingAndGlyphs">2</text>
<line x1="28.5" y1="456.75" x2="31.7" y2="456.75" stroke="#262626" stroke-width="1.05"/>
<text x="25.4" y="459.65" font-size="8.3" text-anchor="end" fill="#333" font-weight="normal" stroke="#333" stroke-width="0.15" textLength="4.4" lengthAdjust="spacingAndGlyphs">3</text>
<line x1="57.349999999999994" y1="604.3" x2="57.349999999999994" y2="607.5" stroke="#262626" stroke-width="1.05"/>
<text x="56.65" y="617.6" font-size="8.2" text-anchor="middle" fill="#333" font-weight="normal" stroke="#333" stroke-width="0.15" textLength="15.8" lengthAdjust="spacingAndGlyphs">−0.5</text>
<line x1="121.6" y1="604.3" x2="121.6" y2="607.5" stroke="#262626" stroke-width="1.05"/>
<text x="121.6" y="617.6" font-size="8.2" text-anchor="middle" fill="#333" font-weight="normal" stroke="#333" stroke-width="0.15" textLength="11.9" lengthAdjust="spacingAndGlyphs">0.0</text>
<line x1="185.85" y1="604.3" x2="185.85" y2="607.5" stroke="#262626" stroke-width="1.05"/>
<text x="185.85" y="617.6" font-size="8.2" text-anchor="middle" fill="#333" font-weight="normal" stroke="#333" stroke-width="0.15" textLength="11.9" lengthAdjust="spacingAndGlyphs">0.5</text>
<line x1="250.1" y1="604.3" x2="250.1" y2="607.5" stroke="#262626" stroke-width="1.05"/>
<text x="250.1" y="617.6" font-size="8.2" text-anchor="middle" fill="#333" font-weight="normal" stroke="#333" stroke-width="0.15" textLength="11.9" lengthAdjust="spacingAndGlyphs">1.0</text>
<text x="166.9" y="631.2" font-size="8.6" text-anchor="middle" fill="#333" font-weight="normal" stroke="#333" stroke-width="0.15" textLength="58.8" lengthAdjust="spacingAndGlyphs">log2 fold change</text>
<text transform="translate(14.6,519.3) rotate(-90)" font-size="9.0" text-anchor="middle" fill="#333" stroke="#333" stroke-width="0.15" textLength="51.8" lengthAdjust="spacingAndGlyphs">-log10 <tspan font-style="italic">P</tspan>-value</text>
<circle cx="217.5" cy="442" r="1.3" fill="#a3122b"/>
<text x="198.7" y="451.3" font-size="8.1" text-anchor="start" fill="#222" font-weight="normal" stroke="#222" stroke-width="0.15" textLength="20" lengthAdjust="spacingAndGlyphs">CCL3</text>
<circle cx="231.25" cy="513.25" r="1.3" fill="#a3122b"/>
<text x="228.7" y="510.5" font-size="8.1" text-anchor="start" fill="#222" font-weight="normal" stroke="#222" stroke-width="0.15" textLength="24.3" lengthAdjust="spacingAndGlyphs">CCL23</text>
<circle cx="237" cy="521.75" r="1.3" fill="#a3122b"/>
<text x="234.5" y="519.5" font-size="8.1" text-anchor="start" fill="#222" font-weight="normal" stroke="#222" stroke-width="0.15" textLength="23.5" lengthAdjust="spacingAndGlyphs">CCL17</text>
<circle cx="290" cy="515.75" r="1.3" fill="#a3122b"/>
<text x="260.5" y="513.8" font-size="8.1" text-anchor="start" fill="#222" font-weight="normal" stroke="#222" stroke-width="0.15" textLength="42.5" lengthAdjust="spacingAndGlyphs">IFN.gamma</text>
<circle cx="221.25" cy="532.5" r="1.3" fill="#a3122b"/>
<text x="217" y="530" font-size="8.1" text-anchor="start" fill="#222" font-weight="normal" stroke="#222" stroke-width="0.15" textLength="29.3" lengthAdjust="spacingAndGlyphs">CXCL10</text>
<text x="361.3" y="428.6" font-size="12.4" text-anchor="start" fill="#111" font-weight="bold" stroke="#111" stroke-width="0.2">G</text>
<line x1="393.1" y1="420.8" x2="393.1" y2="531.8" stroke="#4e4e4e" stroke-width="1.7"/>
<line x1="392.3" y1="531.0" x2="510.3" y2="531.0" stroke="#4e4e4e" stroke-width="1.8"/>
<line x1="389.70000000000005" y1="448.5" x2="393.1" y2="448.5" stroke="#333" stroke-width="1.0"/>
<text x="386.8" y="451.4" font-size="8.3" text-anchor="end" fill="#333" font-weight="normal" stroke="#333" stroke-width="0.15" textLength="9.2" lengthAdjust="spacingAndGlyphs">10</text>
<line x1="389.70000000000005" y1="482.9" x2="393.1" y2="482.9" stroke="#333" stroke-width="1.0"/>
<text x="386.8" y="485.8" font-size="8.3" text-anchor="end" fill="#333" font-weight="normal" stroke="#333" stroke-width="0.15" textLength="4.6" lengthAdjust="spacingAndGlyphs">5</text>
<line x1="389.70000000000005" y1="517.3" x2="393.1" y2="517.3" stroke="#333" stroke-width="1.0"/>
<text x="386.8" y="520.2" font-size="8.3" text-anchor="end" fill="#333" font-weight="normal" stroke="#333" stroke-width="0.15" textLength="4.6" lengthAdjust="spacingAndGlyphs">0</text>
<line x1="425.0" y1="531.0" x2="425.0" y2="533.8" stroke="#333" stroke-width="1.0"/>
<line x1="478.0" y1="531.0" x2="478.0" y2="533.8" stroke="#333" stroke-width="1.0"/>
<text x="425.0" y="544.2" font-size="8.2" text-anchor="middle" fill="#333" font-weight="normal" stroke="#333" stroke-width="0.15" textLength="26" lengthAdjust="spacingAndGlyphs">Peresis</text>
<text x="478.0" y="544.2" font-size="8.2" text-anchor="middle" fill="#333" font-weight="normal" stroke="#333" stroke-width="0.15" textLength="48.5" lengthAdjust="spacingAndGlyphs">Other ICANS</text>
<text transform="translate(371.8,475.5) rotate(-90)" font-size="9.3" text-anchor="middle" fill="#333" stroke="#333" stroke-width="0.15" textLength="33.3" lengthAdjust="spacingAndGlyphs">IFNG NPX</text>
<text x="396.2" y="430" font-size="8.2" fill="#222" stroke="#222" stroke-width="0.15" textLength="60.8" lengthAdjust="spacingAndGlyphs">T-test, <tspan font-style="italic">P</tspan> = .0067</text>
<circle cx="477.8" cy="427.0" r="1.5" fill="#40a2d4" stroke="#183c55" stroke-width="0.7"/>
<circle cx="477.8" cy="446.6" r="1.5" fill="#40a2d4" stroke="#183c55" stroke-width="0.7"/>
<circle cx="476.07" cy="451.2" r="1.5" fill="#40a2d4" stroke="#183c55" stroke-width="0.7"/>
<circle cx="479.53" cy="451.2" r="1.5" fill="#40a2d4" stroke="#183c55" stroke-width="0.7"/>
<circle cx="477.8" cy="456.5" r="1.5" fill="#40a2d4" stroke="#183c55" stroke-width="0.7"/>
<circle cx="476.07" cy="462.2" r="1.5" fill="#40a2d4" stroke="#183c55" stroke-width="0.7"/>
<circle cx="479.53" cy="462.2" r="1.5" fill="#40a2d4" stroke="#183c55" stroke-width="0.7"/>
<circle cx="472.62" cy="466.8" r="1.5" fill="#40a2d4" stroke="#183c55" stroke-width="0.7"/>
<circle cx="476.07" cy="466.8" r="1.5" fill="#40a2d4" stroke="#183c55" stroke-width="0.7"/>
<circle cx="479.53" cy="466.8" r="1.5" fill="#40a2d4" stroke="#183c55" stroke-width="0.7"/>
<circle cx="482.98" cy="466.8" r="1.5" fill="#40a2d4" stroke="#183c55" stroke-width="0.7"/>
<circle cx="469.18" cy="471.2" r="1.5" fill="#40a2d4" stroke="#183c55" stroke-width="0.7"/>
<circle cx="472.62" cy="471.2" r="1.5" fill="#40a2d4" stroke="#183c55" stroke-width="0.7"/>
<circle cx="476.07" cy="471.2" r="1.5" fill="#40a2d4" stroke="#183c55" stroke-width="0.7"/>
<circle cx="479.53" cy="471.2" r="1.5" fill="#40a2d4" stroke="#183c55" stroke-width="0.7"/>
<circle cx="482.98" cy="471.2" r="1.5" fill="#40a2d4" stroke="#183c55" stroke-width="0.7"/>
<circle cx="486.43" cy="471.2" r="1.5" fill="#40a2d4" stroke="#183c55" stroke-width="0.7"/>
<circle cx="470.9" cy="475.3" r="1.5" fill="#40a2d4" stroke="#183c55" stroke-width="0.7"/>
<circle cx="474.35" cy="475.3" r="1.5" fill="#40a2d4" stroke="#183c55" stroke-width="0.7"/>
<circle cx="477.8" cy="475.3" r="1.5" fill="#40a2d4" stroke="#183c55" stroke-width="0.7"/>
<circle cx="481.25" cy="475.3" r="1.5" fill="#40a2d4" stroke="#183c55" stroke-width="0.7"/>
<circle cx="484.7" cy="475.3" r="1.5" fill="#40a2d4" stroke="#183c55" stroke-width="0.7"/>
<circle cx="472.62" cy="479.6" r="1.5" fill="#40a2d4" stroke="#183c55" stroke-width="0.7"/>
<circle cx="476.07" cy="479.6" r="1.5" fill="#40a2d4" stroke="#183c55" stroke-width="0.7"/>
<circle cx="479.53" cy="479.6" r="1.5" fill="#40a2d4" stroke="#183c55" stroke-width="0.7"/>
<circle cx="482.98" cy="479.6" r="1.5" fill="#40a2d4" stroke="#183c55" stroke-width="0.7"/>
<circle cx="464.0" cy="483.5" r="1.5" fill="#40a2d4" stroke="#183c55" stroke-width="0.7"/>
<circle cx="467.45" cy="483.5" r="1.5" fill="#40a2d4" stroke="#183c55" stroke-width="0.7"/>
<circle cx="470.9" cy="483.5" r="1.5" fill="#40a2d4" stroke="#183c55" stroke-width="0.7"/>
<circle cx="474.35" cy="483.5" r="1.5" fill="#40a2d4" stroke="#183c55" stroke-width="0.7"/>
<circle cx="477.8" cy="483.5" r="1.5" fill="#40a2d4" stroke="#183c55" stroke-width="0.7"/>
<circle cx="481.25" cy="483.5" r="1.5" fill="#40a2d4" stroke="#183c55" stroke-width="0.7"/>
<circle cx="484.7" cy="483.5" r="1.5" fill="#40a2d4" stroke="#183c55" stroke-width="0.7"/>
<circle cx="488.15" cy="483.5" r="1.5" fill="#40a2d4" stroke="#183c55" stroke-width="0.7"/>
<circle cx="491.6" cy="483.5" r="1.5" fill="#40a2d4" stroke="#183c55" stroke-width="0.7"/>
<circle cx="460.55" cy="487.5" r="1.5" fill="#40a2d4" stroke="#183c55" stroke-width="0.7"/>
<circle cx="464.0" cy="487.5" r="1.5" fill="#40a2d4" stroke="#183c55" stroke-width="0.7"/>
<circle cx="467.45" cy="487.5" r="1.5" fill="#40a2d4" stroke="#183c55" stroke-width="0.7"/>
<circle cx="470.9" cy="487.5" r="1.5" fill="#40a2d4" stroke="#183c55" stroke-width="0.7"/>
<circle cx="474.35" cy="487.5" r="1.5" fill="#40a2d4" stroke="#183c55" stroke-width="0.7"/>
<circle cx="477.8" cy="487.5" r="1.5" fill="#40a2d4" stroke="#183c55" stroke-width="0.7"/>
<circle cx="481.25" cy="487.5" r="1.5" fill="#40a2d4" stroke="#183c55" stroke-width="0.7"/>
<circle cx="484.7" cy="487.5" r="1.5" fill="#40a2d4" stroke="#183c55" stroke-width="0.7"/>
<circle cx="488.15" cy="487.5" r="1.5" fill="#40a2d4" stroke="#183c55" stroke-width="0.7"/>
<circle cx="491.6" cy="487.5" r="1.5" fill="#40a2d4" stroke="#183c55" stroke-width="0.7"/>
<circle cx="495.05" cy="487.5" r="1.5" fill="#40a2d4" stroke="#183c55" stroke-width="0.7"/>
<circle cx="464.0" cy="491.3" r="1.5" fill="#40a2d4" stroke="#183c55" stroke-width="0.7"/>
<circle cx="467.45" cy="491.3" r="1.5" fill="#40a2d4" stroke="#183c55" stroke-width="0.7"/>
<circle cx="470.9" cy="491.3" r="1.5" fill="#40a2d4" stroke="#183c55" stroke-width="0.7"/>
<circle cx="474.35" cy="491.3" r="1.5" fill="#40a2d4" stroke="#183c55" stroke-width="0.7"/>
<circle cx="477.8" cy="491.3" r="1.5" fill="#40a2d4" stroke="#183c55" stroke-width="0.7"/>
<circle cx="481.25" cy="491.3" r="1.5" fill="#40a2d4" stroke="#183c55" stroke-width="0.7"/>
<circle cx="484.7" cy="491.3" r="1.5" fill="#40a2d4" stroke="#183c55" stroke-width="0.7"/>
<circle cx="488.15" cy="491.3" r="1.5" fill="#40a2d4" stroke="#183c55" stroke-width="0.7"/>
<circle cx="491.6" cy="491.3" r="1.5" fill="#40a2d4" stroke="#183c55" stroke-width="0.7"/>
<circle cx="457.1" cy="494.9" r="1.5" fill="#40a2d4" stroke="#183c55" stroke-width="0.7"/>
<circle cx="460.55" cy="494.9" r="1.5" fill="#40a2d4" stroke="#183c55" stroke-width="0.7"/>
<circle cx="464.0" cy="494.9" r="1.5" fill="#40a2d4" stroke="#183c55" stroke-width="0.7"/>
<circle cx="467.45" cy="494.9" r="1.5" fill="#40a2d4" stroke="#183c55" stroke-width="0.7"/>
<circle cx="470.9" cy="494.9" r="1.5" fill="#40a2d4" stroke="#183c55" stroke-width="0.7"/>
<circle cx="474.35" cy="494.9" r="1.5" fill="#40a2d4" stroke="#183c55" stroke-width="0.7"/>
<circle cx="477.8" cy="494.9" r="1.5" fill="#40a2d4" stroke="#183c55" stroke-width="0.7"/>
<circle cx="481.25" cy="494.9" r="1.5" fill="#40a2d4" stroke="#183c55" stroke-width="0.7"/>
<circle cx="484.7" cy="494.9" r="1.5" fill="#40a2d4" stroke="#183c55" stroke-width="0.7"/>
<circle cx="488.15" cy="494.9" r="1.5" fill="#40a2d4" stroke="#183c55" stroke-width="0.7"/>
<circle cx="491.6" cy="494.9" r="1.5" fill="#40a2d4" stroke="#183c55" stroke-width="0.7"/>
<circle cx="495.05" cy="494.9" r="1.5" fill="#40a2d4" stroke="#183c55" stroke-width="0.7"/>
<circle cx="498.5" cy="494.9" r="1.5" fill="#40a2d4" stroke="#183c55" stroke-width="0.7"/>
<circle cx="470.9" cy="498.5" r="1.5" fill="#40a2d4" stroke="#183c55" stroke-width="0.7"/>
<circle cx="474.35" cy="498.5" r="1.5" fill="#40a2d4" stroke="#183c55" stroke-width="0.7"/>
<circle cx="477.8" cy="498.5" r="1.5" fill="#40a2d4" stroke="#183c55" stroke-width="0.7"/>
<circle cx="481.25" cy="498.5" r="1.5" fill="#40a2d4" stroke="#183c55" stroke-width="0.7"/>
<circle cx="484.7" cy="498.5" r="1.5" fill="#40a2d4" stroke="#183c55" stroke-width="0.7"/>
<circle cx="476.07" cy="502.2" r="1.5" fill="#40a2d4" stroke="#183c55" stroke-width="0.7"/>
<circle cx="479.53" cy="502.2" r="1.5" fill="#40a2d4" stroke="#183c55" stroke-width="0.7"/>
<circle cx="477.8" cy="509.0" r="1.5" fill="#40a2d4" stroke="#183c55" stroke-width="0.7"/>
<circle cx="477.8" cy="523.8" r="1.5" fill="#40a2d4" stroke="#183c55" stroke-width="0.7"/>
<circle cx="423.2" cy="491.2" r="1.5" fill="#a3112c" stroke="#55091a" stroke-width="0.7"/>
<circle cx="426.6" cy="491.2" r="1.5" fill="#a3112c" stroke="#55091a" stroke-width="0.7"/>
<circle cx="423.2" cy="498.8" r="1.5" fill="#a3112c" stroke="#55091a" stroke-width="0.7"/>
<circle cx="426.6" cy="498.8" r="1.5" fill="#a3112c" stroke="#55091a" stroke-width="0.7"/>
<text x="361.5" y="571.6" font-size="12.4" text-anchor="start" fill="#111" font-weight="bold" stroke="#111" stroke-width="0.2">H</text>
<line x1="393.0" y1="577.8" x2="393.0" y2="688.8" stroke="#4e4e4e" stroke-width="1.7"/>
<line x1="392.2" y1="688.0" x2="509.5" y2="688.0" stroke="#4e4e4e" stroke-width="1.8"/>
<line x1="389.6" y1="600.9" x2="393.0" y2="600.9" stroke="#333" stroke-width="1.0"/>
<text x="386.3" y="603.8" font-size="8.3" text-anchor="end" fill="#333" font-weight="normal" stroke="#333" stroke-width="0.15" textLength="11.47" lengthAdjust="spacingAndGlyphs">7.5</text>
<line x1="389.6" y1="628.8" x2="393.0" y2="628.8" stroke="#333" stroke-width="1.0"/>
<text x="386.3" y="631.7" font-size="8.3" text-anchor="end" fill="#333" font-weight="normal" stroke="#333" stroke-width="0.15" textLength="11.47" lengthAdjust="spacingAndGlyphs">5.0</text>
<line x1="389.6" y1="656.7" x2="393.0" y2="656.7" stroke="#333" stroke-width="1.0"/>
<text x="386.3" y="659.6" font-size="8.3" text-anchor="end" fill="#333" font-weight="normal" stroke="#333" stroke-width="0.15" textLength="11.47" lengthAdjust="spacingAndGlyphs">2.5</text>
<line x1="389.6" y1="685.2" x2="393.0" y2="685.2" stroke="#333" stroke-width="1.0"/>
<text x="386.3" y="688.1" font-size="8.3" text-anchor="end" fill="#333" font-weight="normal" stroke="#333" stroke-width="0.15" textLength="11.47" lengthAdjust="spacingAndGlyphs">0.0</text>
<line x1="425.0" y1="688.0" x2="425.0" y2="690.8" stroke="#333" stroke-width="1.0"/>
<line x1="478.0" y1="688.0" x2="478.0" y2="690.8" stroke="#333" stroke-width="1.0"/>
<text x="425.0" y="700.8" font-size="8.2" text-anchor="middle" fill="#333" font-weight="normal" stroke="#333" stroke-width="0.15" textLength="26" lengthAdjust="spacingAndGlyphs">Peresis</text>
<text x="478.0" y="700.8" font-size="8.2" text-anchor="middle" fill="#333" font-weight="normal" stroke="#333" stroke-width="0.15" textLength="48.5" lengthAdjust="spacingAndGlyphs">Other ICANS</text>
<text transform="translate(370.2,632.9) rotate(-90)" font-size="9.3" text-anchor="middle" fill="#333" stroke="#333" stroke-width="0.15" textLength="38.0" lengthAdjust="spacingAndGlyphs">CCL17 NPX</text>
<text x="396.2" y="586" font-size="8.2" fill="#222" stroke="#222" stroke-width="0.15" textLength="56.5" lengthAdjust="spacingAndGlyphs">T-test, <tspan font-style="italic">P</tspan> = .017</text>
<circle cx="477.5" cy="584.1" r="1.5" fill="#40a2d4" stroke="#183c55" stroke-width="0.7"/>
<circle cx="475.77" cy="588.8" r="1.5" fill="#40a2d4" stroke="#183c55" stroke-width="0.7"/>
<circle cx="479.23" cy="588.8" r="1.5" fill="#40a2d4" stroke="#183c55" stroke-width="0.7"/>
<circle cx="477.5" cy="602.6" r="1.5" fill="#40a2d4" stroke="#183c55" stroke-width="0.7"/>
<circle cx="477.5" cy="607.4" r="1.5" fill="#40a2d4" stroke="#183c55" stroke-width="0.7"/>
<circle cx="477.5" cy="611.0" r="1.5" fill="#40a2d4" stroke="#183c55" stroke-width="0.7"/>
<circle cx="477.5" cy="616.0" r="1.5" fill="#40a2d4" stroke="#183c55" stroke-width="0.7"/>
<circle cx="472.32" cy="621.8" r="1.5" fill="#40a2d4" stroke="#183c55" stroke-width="0.7"/>
<circle cx="475.77" cy="621.8" r="1.5" fill="#40a2d4" stroke="#183c55" stroke-width="0.7"/>
<circle cx="479.23" cy="621.8" r="1.5" fill="#40a2d4" stroke="#183c55" stroke-width="0.7"/>
<circle cx="482.68" cy="621.8" r="1.5" fill="#40a2d4" stroke="#183c55" stroke-width="0.7"/>
<circle cx="472.32" cy="627.9" r="1.5" fill="#40a2d4" stroke="#183c55" stroke-width="0.7"/>
<circle cx="475.77" cy="627.9" r="1.5" fill="#40a2d4" stroke="#183c55" stroke-width="0.7"/>
<circle cx="479.23" cy="627.9" r="1.5" fill="#40a2d4" stroke="#183c55" stroke-width="0.7"/>
<circle cx="482.68" cy="627.9" r="1.5" fill="#40a2d4" stroke="#183c55" stroke-width="0.7"/>
<circle cx="477.5" cy="632.5" r="1.5" fill="#40a2d4" stroke="#183c55" stroke-width="0.7"/>
<circle cx="472.32" cy="637.0" r="1.5" fill="#40a2d4" stroke="#183c55" stroke-width="0.7"/>
<circle cx="475.77" cy="637.0" r="1.5" fill="#40a2d4" stroke="#183c55" stroke-width="0.7"/>
<circle cx="479.23" cy="637.0" r="1.5" fill="#40a2d4" stroke="#183c55" stroke-width="0.7"/>
<circle cx="482.68" cy="637.0" r="1.5" fill="#40a2d4" stroke="#183c55" stroke-width="0.7"/>
<circle cx="472.32" cy="640.2" r="1.5" fill="#40a2d4" stroke="#183c55" stroke-width="0.7"/>
<circle cx="475.77" cy="640.2" r="1.5" fill="#40a2d4" stroke="#183c55" stroke-width="0.7"/>
<circle cx="479.23" cy="640.2" r="1.5" fill="#40a2d4" stroke="#183c55" stroke-width="0.7"/>
<circle cx="482.68" cy="640.2" r="1.5" fill="#40a2d4" stroke="#183c55" stroke-width="0.7"/>
<circle cx="461.98" cy="643.7" r="1.5" fill="#40a2d4" stroke="#183c55" stroke-width="0.7"/>
<circle cx="465.43" cy="643.7" r="1.5" fill="#40a2d4" stroke="#183c55" stroke-width="0.7"/>
<circle cx="468.88" cy="643.7" r="1.5" fill="#40a2d4" stroke="#183c55" stroke-width="0.7"/>
<circle cx="472.32" cy="643.7" r="1.5" fill="#40a2d4" stroke="#183c55" stroke-width="0.7"/>
<circle cx="475.77" cy="643.7" r="1.5" fill="#40a2d4" stroke="#183c55" stroke-width="0.7"/>
<circle cx="479.23" cy="643.7" r="1.5" fill="#40a2d4" stroke="#183c55" stroke-width="0.7"/>
<circle cx="482.68" cy="643.7" r="1.5" fill="#40a2d4" stroke="#183c55" stroke-width="0.7"/>
<circle cx="486.12" cy="643.7" r="1.5" fill="#40a2d4" stroke="#183c55" stroke-width="0.7"/>
<circle cx="489.57" cy="643.7" r="1.5" fill="#40a2d4" stroke="#183c55" stroke-width="0.7"/>
<circle cx="493.02" cy="643.7" r="1.5" fill="#40a2d4" stroke="#183c55" stroke-width="0.7"/>
<circle cx="463.7" cy="647.5" r="1.5" fill="#40a2d4" stroke="#183c55" stroke-width="0.7"/>
<circle cx="467.15" cy="647.5" r="1.5" fill="#40a2d4" stroke="#183c55" stroke-width="0.7"/>
<circle cx="470.6" cy="647.5" r="1.5" fill="#40a2d4" stroke="#183c55" stroke-width="0.7"/>
<circle cx="474.05" cy="647.5" r="1.5" fill="#40a2d4" stroke="#183c55" stroke-width="0.7"/>
<circle cx="477.5" cy="647.5" r="1.5" fill="#40a2d4" stroke="#183c55" stroke-width="0.7"/>
<circle cx="480.95" cy="647.5" r="1.5" fill="#40a2d4" stroke="#183c55" stroke-width="0.7"/>
<circle cx="484.4" cy="647.5" r="1.5" fill="#40a2d4" stroke="#183c55" stroke-width="0.7"/>
<circle cx="487.85" cy="647.5" r="1.5" fill="#40a2d4" stroke="#183c55" stroke-width="0.7"/>
<circle cx="491.3" cy="647.5" r="1.5" fill="#40a2d4" stroke="#183c55" stroke-width="0.7"/>
<circle cx="458.52" cy="651.3" r="1.5" fill="#40a2d4" stroke="#183c55" stroke-width="0.7"/>
<circle cx="461.98" cy="651.3" r="1.5" fill="#40a2d4" stroke="#183c55" stroke-width="0.7"/>
<circle cx="465.43" cy="651.3" r="1.5" fill="#40a2d4" stroke="#183c55" stroke-width="0.7"/>
<circle cx="468.88" cy="651.3" r="1.5" fill="#40a2d4" stroke="#183c55" stroke-width="0.7"/>
<circle cx="472.32" cy="651.3" r="1.5" fill="#40a2d4" stroke="#183c55" stroke-width="0.7"/>
<circle cx="475.77" cy="651.3" r="1.5" fill="#40a2d4" stroke="#183c55" stroke-width="0.7"/>
<circle cx="479.23" cy="651.3" r="1.5" fill="#40a2d4" stroke="#183c55" stroke-width="0.7"/>
<circle cx="482.68" cy="651.3" r="1.5" fill="#40a2d4" stroke="#183c55" stroke-width="0.7"/>
<circle cx="486.12" cy="651.3" r="1.5" fill="#40a2d4" stroke="#183c55" stroke-width="0.7"/>
<circle cx="489.57" cy="651.3" r="1.5" fill="#40a2d4" stroke="#183c55" stroke-width="0.7"/>
<circle cx="493.02" cy="651.3" r="1.5" fill="#40a2d4" stroke="#183c55" stroke-width="0.7"/>
<circle cx="496.48" cy="651.3" r="1.5" fill="#40a2d4" stroke="#183c55" stroke-width="0.7"/>
<circle cx="468.88" cy="654.9" r="1.5" fill="#40a2d4" stroke="#183c55" stroke-width="0.7"/>
<circle cx="472.32" cy="654.9" r="1.5" fill="#40a2d4" stroke="#183c55" stroke-width="0.7"/>
<circle cx="475.77" cy="654.9" r="1.5" fill="#40a2d4" stroke="#183c55" stroke-width="0.7"/>
<circle cx="479.23" cy="654.9" r="1.5" fill="#40a2d4" stroke="#183c55" stroke-width="0.7"/>
<circle cx="482.68" cy="654.9" r="1.5" fill="#40a2d4" stroke="#183c55" stroke-width="0.7"/>
<circle cx="486.12" cy="654.9" r="1.5" fill="#40a2d4" stroke="#183c55" stroke-width="0.7"/>
<circle cx="472.32" cy="658.5" r="1.5" fill="#40a2d4" stroke="#183c55" stroke-width="0.7"/>
<circle cx="475.77" cy="658.5" r="1.5" fill="#40a2d4" stroke="#183c55" stroke-width="0.7"/>
<circle cx="479.23" cy="658.5" r="1.5" fill="#40a2d4" stroke="#183c55" stroke-width="0.7"/>
<circle cx="482.68" cy="658.5" r="1.5" fill="#40a2d4" stroke="#183c55" stroke-width="0.7"/>
<circle cx="472.32" cy="662.2" r="1.5" fill="#40a2d4" stroke="#183c55" stroke-width="0.7"/>
<circle cx="475.77" cy="662.2" r="1.5" fill="#40a2d4" stroke="#183c55" stroke-width="0.7"/>
<circle cx="479.23" cy="662.2" r="1.5" fill="#40a2d4" stroke="#183c55" stroke-width="0.7"/>
<circle cx="482.68" cy="662.2" r="1.5" fill="#40a2d4" stroke="#183c55" stroke-width="0.7"/>
<circle cx="472.32" cy="665.7" r="1.5" fill="#40a2d4" stroke="#183c55" stroke-width="0.7"/>
<circle cx="475.77" cy="665.7" r="1.5" fill="#40a2d4" stroke="#183c55" stroke-width="0.7"/>
<circle cx="479.23" cy="665.7" r="1.5" fill="#40a2d4" stroke="#183c55" stroke-width="0.7"/>
<circle cx="482.68" cy="665.7" r="1.5" fill="#40a2d4" stroke="#183c55" stroke-width="0.7"/>
<circle cx="477.5" cy="673.5" r="1.5" fill="#40a2d4" stroke="#183c55" stroke-width="0.7"/>
<circle cx="477.5" cy="681.1" r="1.5" fill="#40a2d4" stroke="#183c55" stroke-width="0.7"/>
<circle cx="425.0" cy="647.9" r="1.5" fill="#a3112c" stroke="#55091a" stroke-width="0.7"/>
<circle cx="425.0" cy="652.3" r="1.5" fill="#a3112c" stroke="#55091a" stroke-width="0.7"/>
<circle cx="425.0" cy="656.6" r="1.5" fill="#a3112c" stroke="#55091a" stroke-width="0.7"/>
<circle cx="425.0" cy="661.0" r="1.5" fill="#a3112c" stroke="#55091a" stroke-width="0.7"/>
</svg>
<div class="frame"></div>
</body></html>
